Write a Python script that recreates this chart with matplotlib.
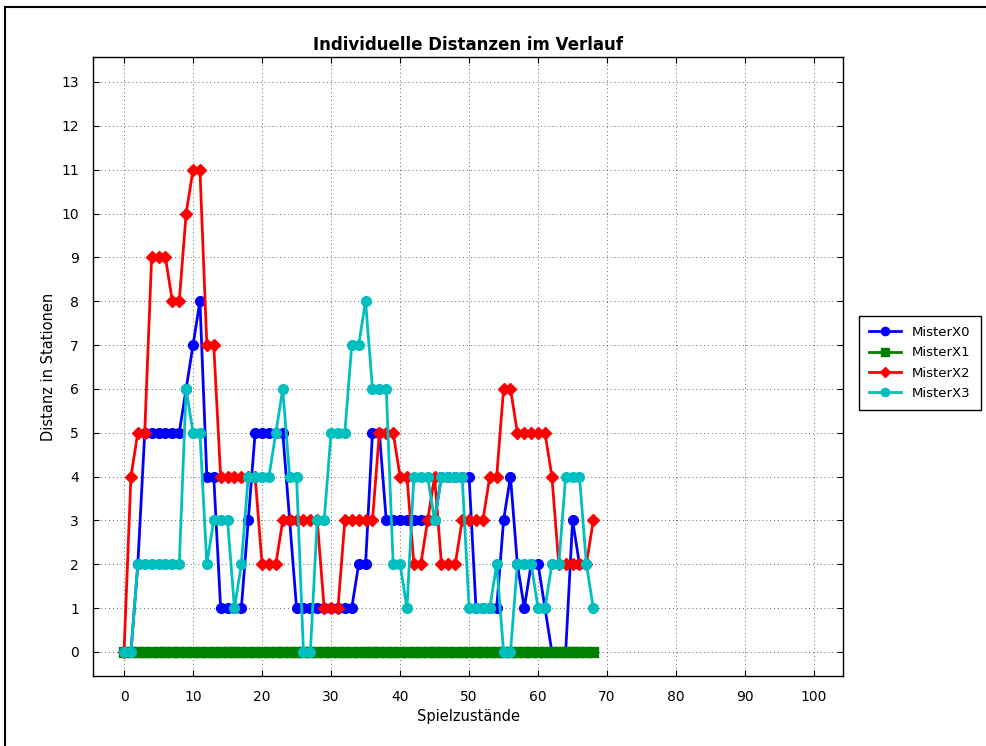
import matplotlib
matplotlib.use("Agg")
import matplotlib.pyplot as plt
from matplotlib.lines import Line2D

# Distanzen pro Spielzustand (0..68) fuer jeden MisterX
steps = list(range(69))

mister_x0 = [0, 0, 2, 5, 5, 5, 5, 5, 5, 6, 7, 8, 4, 4, 1, 1, 1, 1, 3, 5,
             5, 5, 5, 5, 3, 1, 1, 1, 1, 1, 1, 1, 1, 1, 2, 2, 5, 5, 3, 3,
             3, 3, 3, 3, 3, 3, 4, 4, 4, 4, 4, 1, 1, 1, 1, 3, 4, 2, 1, 2,
             2, 1, 0, 0, 0, 3, 2, 2]
mister_x1 = [0] * 69
mister_x2 = [0, 4, 5, 5, 9, 9, 9, 8, 8, 10, 11, 11, 7, 7, 4, 4, 4, 4, 4, 4,
             2, 2, 2, 3, 3, 3, 3, 3, 3, 1, 1, 1, 3, 3, 3, 3, 3, 5, 5, 5,
             4, 4, 2, 2, 3, 4, 2, 2, 2, 3, 3, 3, 3, 4, 4, 6, 6, 5, 5, 5,
             5, 5, 4, 2, 2, 2, 2, 2, 3]
mister_x3 = [0, 0, 2, 2, 2, 2, 2, 2, 2, 6, 5, 5, 2, 3, 3, 3, 1, 2, 4, 4,
             4, 4, 5, 6, 4, 4, 0, 0, 3, 3, 5, 5, 5, 7, 7, 8, 6, 6, 6, 2,
             2, 1, 4, 4, 4, 3, 4, 4, 4, 4, 1, 1, 1, 1, 2, 0, 0, 2, 2, 2,
             1, 1, 2, 2, 4, 4, 4, 2, 1]

series = [
    ("MisterX0", mister_x0, "#0000ff", "o"),
    ("MisterX1", mister_x1, "#008000", "s"),
    ("MisterX2", mister_x2, "#ff0000", "D"),
    ("MisterX3", mister_x3, "#00bfbf", "o"),
]

fig = plt.figure(figsize=(9.87, 7.46), dpi=100)
ax = fig.add_axes([0.0942, 0.0938, 0.7600, 0.8298])

for name, values, color, marker in series:
    msize = 6 if marker == "D" else 7
    ax.plot(steps[:len(values)], values, color=color, marker=marker,
            markersize=msize, linewidth=2, label=name)

ax.set_xlim(-4.5, 104.2)
ax.set_ylim(-0.55, 13.57)
ax.set_xticks(range(0, 101, 10))
ax.set_yticks(range(0, 14))
ax.tick_params(direction="in", top=True, right=True, labelsize=10,
               length=4, pad=10)
ax.grid(True, color="black", linestyle=(0, (1, 3)), linewidth=0.7, alpha=0.6)
for spine in ax.spines.values():
    spine.set_linewidth(1)

ax.set_title("Individuelle Distanzen im Verlauf", fontsize=12,
             fontweight="bold", pad=5)
ax.set_xlabel("Spielzustände", fontsize=10.5)
ax.set_ylabel("Distanz in Stationen", fontsize=10.5)

leg = fig.legend(loc="upper left", bbox_to_anchor=(0.870, 0.577),
                 borderaxespad=0, fontsize=9.5, fancybox=False,
                 edgecolor="black", framealpha=1, handlelength=2.4,
                 handletextpad=0.8, borderpad=0.8, labelspacing=0.55,
                 markerscale=0.85)
leg.get_frame().set_linewidth(1)

# Rahmen um die gesamte Grafik (oben und links sichtbar)
fig.add_artist(Line2D([0.005, 1.0], [0.9906, 0.9906], color="black",
                      linewidth=1.5, transform=fig.transFigure))
fig.add_artist(Line2D([0.005, 0.005], [0.0, 0.9906], color="black",
                      linewidth=1.5, transform=fig.transFigure))

fig.savefig("out.png", dpi=100)
